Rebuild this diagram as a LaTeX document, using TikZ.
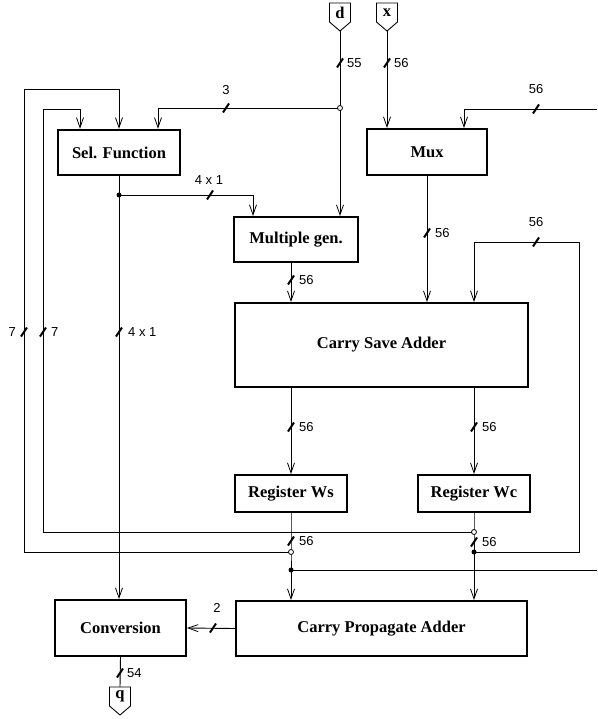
\documentclass[tikz,border=0pt]{standalone}
\usepackage{fontspec}
\setmainfont{Liberation Serif}
\newfontfamily\lblfont{Liberation Sans}
\usetikzlibrary{calc,arrows.meta}
\tikzset{
	block/.style={draw,line width=2.4pt,font=\fontsize{16.5}{18}\selectfont\bfseries,inner sep=0pt},
	port/.style={font=\fontsize{16.5}{18}\selectfont\bfseries,inner sep=0pt},
	wire/.style={line width=0.9pt},
	sig/.style={wire,-{Straight Barb[length=10pt,width=7pt,line width=0.8pt]}},
	bus/.style={line width=2pt},
	lbl/.style={font=\fontsize{13}{15}\selectfont\lblfont,inner sep=0pt},
	odot/.style={circle,draw,fill=white,inner sep=0pt,minimum size=5pt,line width=0.8pt},
	fdot/.style={circle,fill=black,inner sep=0pt,minimum size=5pt}
}
\newcommand{\busmark}[1]{\draw[bus] ($(#1)+(-3,4.5)$) -- ($(#1)+(3,-4.5)$);}
\newcommand{\portshape}[1]{\draw[wire] ($(#1)+(-10.5,-9.5)$) -- ++(21,0) -- ++(0,19) -- ++(-10.5,9) -- ++(-10.5,-9) -- cycle;}

\begin{document}
\begin{tikzpicture}[x=1pt,y=-1pt]
\useasboundingbox (0,0) rectangle (597,719);
% blocks
\node[block,minimum width=122pt,minimum height=45pt] (sel) at (119,152.5) {Sel. Function};
\node[block,minimum width=120pt,minimum height=45.5pt] (mux) at (427,152) {Mux};
\node[block,minimum width=123.5pt,minimum height=44.5pt] (mgen) at (296,239.5) {Multiple gen.};
\node[block,minimum width=292.5pt,minimum height=83.5pt] (csa) at (381.5,345) {Carry Save Adder};
\node[block,minimum width=111.5pt,minimum height=36.5pt] (regws) at (291,493.5) {Register Ws};
\node[block,minimum width=111.5pt,minimum height=36.5pt] (regwc) at (474,493.5) {Register Wc};
\node[block,minimum width=130.5pt,minimum height=55.5pt] (conv) at (120.5,628) {Conversion};
\node[block,minimum width=290.5pt,minimum height=54.5pt] (cpa) at (381.5,628.5) {Carry Propagate Adder};
% ports
\node[port] (pd) at (340,12.5) {d};
\node[port] (px) at (387,12.5) {x};
\node[port] (pq) at (120,696.5) {q};
\portshape{pd}
\portshape{px}
\portshape{pq}
\coordinate (dtip) at ($(pd)+(0,18.5)$);
\coordinate (xtip) at ($(px)+(0,18.5)$);
\coordinate (qtop) at ($(pq)+(0,-9.5)$);
% junctions and corners
\coordinate (jd) at (340,108);
\coordinate (jsel) at (119,195);
\coordinate (jws1) at (291,552);
\coordinate (jws2) at (291,570);
\coordinate (jwc1) at (474,532);
\coordinate (jwc2) at (474,552);
\coordinate (lo) at (24,89);
\coordinate (li) at (43,109);
\coordinate (rt) at (579,242);
\coordinate (rin) at (597,109);
\coordinate (rout) at (597,570);
%
\draw[wire] (dtip) -- (jd);
\draw[sig] (jd) -- (jd |- mgen.north);
\draw[sig] (jd) -| ($(sel.north)+(39,0)$);
\draw[sig] (xtip) -- (xtip |- mux.north);
\draw[sig] (rin) -| ($(mux.north)+(37,0)$);
\draw[wire] (sel.south) -- (jsel);
\draw[sig] (jsel) -- (jsel |- conv.north);
\draw[sig] (jsel) -| ($(mgen.north)+(-43,0)$);
\draw[sig] (jws1 |- mgen.south) -- (jws1 |- csa.north);
\draw[sig] (mux.south) -- (mux.south |- csa.north);
\draw[sig] (jwc2) -| (rt) -| (jwc2 |- csa.north);
\draw[sig] (regws |- csa.south) -- (regws.north);
\draw[sig] (regwc |- csa.south) -- (regwc.north);
\draw[wire] (regws.south) -- (jws1) -- (jws2);
\draw[sig] (jws2) -- (jws2 |- cpa.north);
\draw[wire] (jws2) -- (rout);
\draw[wire] (regwc.south) -- (jwc1) -- (jwc2);
\draw[sig] (jwc2) -- (jwc2 |- cpa.north);
\draw[sig] (jws1) -| (lo) -| (sel.north);
\draw[sig] (jwc1) -| (li) -| ($(sel.north)+(-39,0)$);
\draw[sig] (cpa.west) -- (conv.east);
\draw[wire] (conv.south) -- (qtop);
% bus widths
\busmark{340,63}  \node[lbl,anchor=west] (l55) at (347,63) {55};
\busmark{387,63}  \node[lbl,anchor=west] (lx) at (394,63) {56};
\busmark{226,108} \node[lbl] (l3) at (226,90) {3};
\busmark{536,109} \node[lbl] (lin) at (536,89) {56};
\busmark{210,195} \node[lbl] (lsel) at (209,180) {4 x 1};
\busmark{291,280} \node[lbl,anchor=west] (lmg) at (299,280) {56};
\busmark{427,233} \node[lbl,anchor=west] (lmux) at (435,233) {56};
\busmark{536,242} \node[lbl] (lfb) at (536,222) {56};
\busmark{24,332}  \node[lbl,anchor=east] (lo7) at (16,332) {7};
\busmark{43,332}  \node[lbl,anchor=west] (li7) at (51,332) {7};
\busmark{119,332} \node[lbl,anchor=west] (lq) at (128,332) {4 x 1};
\busmark{291,427} \node[lbl,anchor=west] (lws) at (299,427) {56};
\busmark{474,427} \node[lbl,anchor=west] (lwc) at (482,427) {56};
\busmark{291,541} \node[lbl,anchor=west] (lws2) at (299,541) {56};
\busmark{474,542} \node[lbl,anchor=west] (lwc2) at (482,542) {56};
\busmark{213,628} \node[lbl] (l2) at (217,608) {2};
\busmark{120,673} \node[lbl,anchor=west] (l54) at (127,673) {54};
% dots
\node[odot] (djd) at (jd) {};
\node[fdot] (djsel) at (jsel) {};
\node[odot] (djws1) at (jws1) {};
\node[fdot] (djws2) at (jws2) {};
\node[odot] (djwc1) at (jwc1) {};
\node[fdot] (djwc2) at (jwc2) {};
\end{tikzpicture}
\end{document}
